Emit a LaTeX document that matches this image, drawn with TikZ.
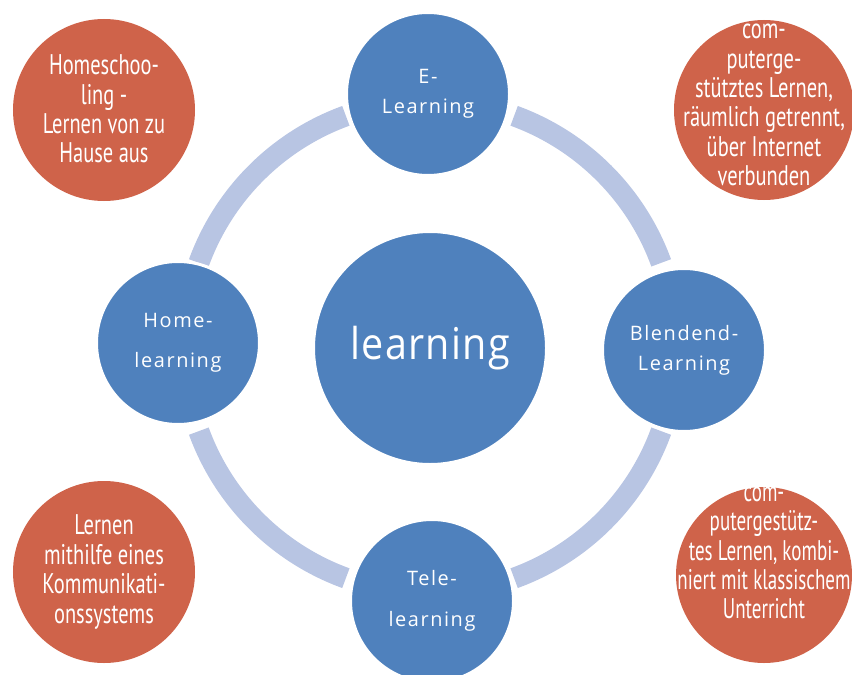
\documentclass[tikz,border=0pt]{standalone}
\usepackage{fontspec}
\setmainfont{Open Sans}
\newfontfamily\condfont[FakeStretch=0.72]{PT Sans}
\newfontfamily\narrowfont[FakeStretch=0.67]{PT Sans}
\newfontfamily\bluefont[LetterSpace=8]{Open Sans}
\newfontfamily\bigfont[FakeStretch=0.9,LetterSpace=3]{Open Sans}
\definecolor{nodeblue}{HTML}{4F81BD}
\definecolor{ringblue}{HTML}{B8C5E3}
\definecolor{orng}{HTML}{CF634A}
\begin{document}
\begin{tikzpicture}[x=1bp,y=-1bp]
\useasboundingbox (0,0) rectangle (852,675);
\clip (0,0) rectangle (852,675);
\tikzset{
  bluecirc/.style={circle, fill=nodeblue, draw=white, line width=3bp, minimum size=163bp, inner sep=0pt,
    text=white, align=center, font=\bluefont\fontsize{20}{30}\selectfont},
  orangecirc/.style={circle, fill=orng, minimum size=182bp, inner sep=0pt},
  otext/.style={text=white, align=center, inner sep=0pt, font=\condfont\fontsize{28.5}{29.5}\selectfont},
  ringarc/.style={draw=ringblue, line width=21bp},
}
% ring segments
\coordinate (rc) at (430,347);
\draw[ringarc] (rc) ++(20:246bp) arc[start angle=20, end angle=70, radius=246bp];
\draw[ringarc] (rc) ++(110:246bp) arc[start angle=110, end angle=160, radius=246bp];
\draw[ringarc] (rc) ++(200:246bp) arc[start angle=200, end angle=250, radius=246bp];
\draw[ringarc] (rc) ++(290:246bp) arc[start angle=290, end angle=340, radius=246bp];

% blue nodes
\node[bluecirc, minimum size=233bp, font=\bigfont\fontsize{44}{50}\selectfont] (center) at (430,348) {learning};
\node[bluecirc] (elearn) at (428,94) {E-\\Learning};
\node[bluecirc] (blend) at (684,350) {Blendend-\\Learning};
\node[bluecirc, font=\bluefont\fontsize{20}{40}\selectfont] (home) at (178,343) {Home-\\learning};
\node[bluecirc, font=\bluefont\fontsize{20}{41}\selectfont] (tele) at (432,601) {Tele-\\learning};

% orange nodes
\node[orangecirc] (otl) at (104,110) {};
\node[orangecirc, minimum size=180bp] (otr) at (764,110) {};
\node[orangecirc] (obl) at (104,572) {};
\node[orangecirc, minimum size=176bp] (obr) at (764,575) {};

\node[otext] (totl) at ([yshift=1bp]otl.center) {Homeschoo-\\ling -\\Lernen von zu\\Hause aus};
\node[otext] (totr) at ([yshift=5bp]otr.center) {com-\\puterge-\\stütztes Lernen,\\räumlich getrennt,\\über Internet\\verbunden};
\node[otext] (tobl) at ([yshift=0bp]obl.center) {Lernen\\mithilfe eines\\Kommunikati-\\onssystems};
\node[otext, font=\narrowfont\fontsize{28.5}{29.5}\selectfont] (tobr) at ([xshift=0bp,yshift=22bp]obr.center) {com-\\putergestütz-\\tes Lernen, kombi-\\niert mit klassischem\\Unterricht};
\end{tikzpicture}
\end{document}
